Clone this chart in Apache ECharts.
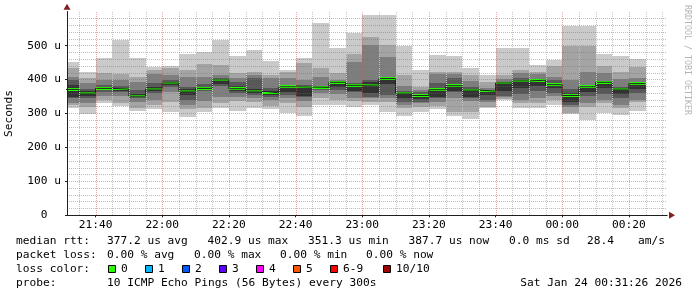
<!DOCTYPE html>
<html><head><meta charset="utf-8">
<script src="https://cdn.jsdelivr.net/npm/echarts@6/dist/echarts.min.js"></script>
<style>html,body{margin:0;padding:0;background:#fff}#c{width:697px;height:297px}</style>
</head><body><div id="c"></div><script>
// bar end times (5 minute steps)
const barEnds = ['21:35','21:40','21:45','21:50','21:55','22:00','22:05','22:10','22:15','22:20','22:25','22:30','22:35','22:40','22:45','22:50','22:55','23:00','23:05','23:10','23:15','23:20','23:25','23:30','23:35','23:40','23:45','23:50','23:55','00:00','00:05','00:10','00:15','00:20','00:25'];
// sorted pings (µs), ping1 = fastest ... ping10 = slowest
const ping1  = [317,300,330,322,307,313,303,291,305,317,307,317,313,301,294,325,325,318,325,305,294,305,313,294,284,317,339,315,317,325,298,281,301,296,307];
const ping2  = [325,318,340,330,315,325,335,312,317,330,337,333,323,330,318,345,340,337,335,335,315,318,322,305,305,320,344,330,330,340,301,320,330,315,335];
const ping3  = [330,332,353,353,335,340,364,325,337,350,350,345,340,345,337,360,357,347,345,345,325,330,335,345,337,335,348,340,345,353,320,330,340,325,340];
const ping4  = [345,347,364,362,345,360,379,340,366,382,360,355,350,355,348,369,369,364,350,355,335,335,345,363,345,340,353,358,367,361,325,353,357,345,360];
const ping5  = [350,352,368,366,348,366,384,355,371,386,365,360,355,362,352,372,379,366,360,386,345,342,350,366,350,355,365,375,380,374,335,364,374,358,372];
const ping6  = [384,366,378,376,358,378,394,372,378,403,380,372,366,381,381,380,393,386,392,406,362,358,374,388,372,368,391,398,400,390,360,382,394,376,390];
const ping7  = [399,372,384,382,369,389,399,379,386,406,394,404,376,382,385,382,394,389,399,409,366,364,389,404,379,369,392,404,402,399,371,384,396,379,394];
const ping8  = [407,389,399,399,394,415,413,409,409,414,404,414,404,404,399,409,399,453,503,467,382,369,415,415,396,376,402,418,415,409,399,421,418,402,406];
const ping9  = [435,406,418,415,409,428,433,428,445,443,418,421,414,423,448,435,418,475,525,503,414,379,423,423,414,392,414,428,423,441,500,500,441,421,438];
const ping10 = [451,421,463,516,463,438,441,474,480,517,468,487,455,428,465,566,492,537,589,589,500,428,472,468,435,414,494,492,443,458,559,559,474,468,460];
const median = [371,360,374,372,351,372,390,366,374,399,373,366,361,379,378,377,392,383,384,403,360,353,370,382,369,366,390,396,398,385,353,379,392,372,388];

// axis tick labels / grid positions
const xTickLabels = ['21:40','22:00','22:20','22:40','23:00','23:20','23:40','00:00','00:20'];
const xMinorTicks = ['21:35','21:45','21:50','21:55','22:05','22:10','22:15','22:25','22:30','22:35','22:45','22:50','22:55','23:05','23:10','23:15','23:25','23:30','23:35','23:45','23:50','23:55','00:05','00:10','00:15','00:25','00:30'];
const yMax = 600;

const statLine1 = [['median rtt:',16],['377.2 us avg',107],['402.9 us max',207.5],['351.3 us min',308],['387.7 us now',408.5],['0.0 ms sd',509],['28.4',587],['am/s',638]];
const statLine2 = [['packet loss:',16],['0.00 % avg',107],['0.00 % max',194],['0.00 % min',280],['0.00 % now',366]];
const lossLabels = ['0','1','2','3','4','5','6-9','10/10'];
const lossColors = ['#26ff00','#00b8ff','#0059ff','#5e00ff','#ff00ff','#ff5500','#ff0000','#a00000'];
const lossBoxX = [108,145,182,219,256,293,330,383];
const probeText = '10 ICMP Echo Pings (56 Bytes) every 300s';
const dateText = 'Sat Jan 24 00:31:26 2026';
const smokeColors = ['#cacaca','#a4a4a4','#7e7e7e','#585858','#323232'];

function toMs(hm){ const [h,m]=hm.split(':').map(Number); return new Date(2026,0,h<12?24:23,h,m,0).getTime(); }
function fmt(v){ const d=new Date(v); return String(d.getHours()).padStart(2,'0')+':'+String(d.getMinutes()).padStart(2,'0'); }
const STEP = 5*60*1000;
const ends = barEnds.map(toMs);
const starts = ends.map(e=>e-STEP);
const xMin = new Date(2026,0,23,21,31,26).getTime();
const xMax = new Date(2026,0,24,0,31,26).getTime();
const pings = [ping1,ping2,ping3,ping4,ping5,ping6,ping7,ping8,ping9,ping10];

const smokeData = ends.map((e,i)=>[starts[i], e].concat(pings.map(p=>p[i])));
const medData = ends.map((e,i)=>[starts[i], e, median[i]]);
const lineData = [[starts[0], median[0]]].concat(ends.map((e,i)=>[e, median[i]]));

const FONT = '"DejaVu Sans Mono", monospace';
const FS = 11.2;

function clampRect(p0,p1,cs){
  let x0 = Math.round(Math.max(p0[0], cs.x)), x1 = Math.round(Math.min(p1[0], cs.x+cs.width));
  let y0 = Math.round(p0[1]), y1 = Math.round(p1[1]);
  return {x:x0, y:y0, width:Math.max(0,x1-x0), height:y1-y0};
}

const graphics = [];
statLine1.forEach(([t,x])=>graphics.push({type:'text',x:x,y:241,style:{text:t,font:FS+'px '+FONT,fill:'#000',verticalAlign:'middle'}}));
statLine2.forEach(([t,x])=>graphics.push({type:'text',x:x,y:255.5,style:{text:t,font:FS+'px '+FONT,fill:'#000',verticalAlign:'middle'}}));
graphics.push({type:'text',x:16,y:269.5,style:{text:'loss color:',font:FS+'px '+FONT,fill:'#000',verticalAlign:'middle'}});
lossLabels.forEach((l,k)=>{
  graphics.push({type:'rect',shape:{x:lossBoxX[k]+0.5,y:265.5,width:7,height:7},style:{fill:lossColors[k],stroke:'#000',lineWidth:1}});
  graphics.push({type:'text',x:lossBoxX[k]+13,y:269.5,style:{text:l,font:FS+'px '+FONT,fill:'#000',verticalAlign:'middle'}});
});
graphics.push({type:'text',x:16,y:283.5,style:{text:'probe:',font:FS+'px '+FONT,fill:'#000',verticalAlign:'middle'}});
graphics.push({type:'text',x:107,y:283.5,style:{text:probeText,font:FS+'px '+FONT,fill:'#000',verticalAlign:'middle'}});
graphics.push({type:'text',x:682,y:283.5,style:{text:dateText,font:FS+'px '+FONT,fill:'#000',verticalAlign:'middle',align:'right'}});
graphics.push({type:'text',x:687,y:5,rotation:-Math.PI/2,style:{text:'RRDTOOL / TOBI OETIKER',font:'8.3px '+FONT,fill:'#b4b4b4',verticalAlign:'middle',align:'left'}});

const chart = echarts.init(document.getElementById('c'), null, {renderer:'canvas'});
const GRAY = 'rgba(110,110,110,0.45)';
const VGRAY = '#c4c4c4';
const RED = 'rgba(222,79,79,0.5)';
const dotGray = {color:GRAY, width:1, type:[1,1]};
const dotRed = {color:RED, width:1, type:[1,1]};
const majorVals = xTickLabels.map(toMs);
const minorVals = xMinorTicks.map(toMs);
function gridSeries(name, vals, color){
  return {type:'custom', name:name, xAxisIndex:0, yAxisIndex:0, z:3, silent:true,
    encode:{x:0}, data:vals.map(v=>[v]),
    renderItem:(params, api)=>{
      const cs = params.coordSys;
      const p0 = api.coord([api.value(0), 0]);
      const x = Math.round(p0[0]) + 0.5;
      return {type:'line', shape:{x1:x, y1:Math.round(cs.y+cs.height), x2:x, y2:Math.round(cs.y)},
              style:{stroke:color, fill:null, lineWidth:1, lineDash:[1,1], opacity:1}};
    }};
}
chart.setOption({
  animation:false,
  backgroundColor:'#fff',
  grid:{left:67, right:30, top:11.7, bottom:81.7, containLabel:false, outerBoundsMode:'none'},
  xAxis:[
    {type:'value', position:'bottom', min:xMin, max:xMax, z:4,
     axisLine:{show:true, onZero:false, lineStyle:{color:'#1f1f1f', width:1}},
     axisTick:{show:true, length:2, customValues:majorVals, lineStyle:{color:'#1f1f1f'}},
     axisLabel:{customValues:majorVals, formatter:fmt, fontFamily:FONT, fontSize:FS, color:'#000', margin:4, hideOverlap:false, showMinLabel:true, showMaxLabel:true},
     splitLine:{show:false}, minorSplitLine:{show:false}},
    {type:'value', position:'bottom', min:xMin, max:xMax, z:3,
     axisLine:{show:true, onZero:false, symbol:['none','triangle'], symbolSize:[7,6], symbolOffset:[0,5], lineStyle:{color:'#7f1f1f', width:1}},
     axisTick:{show:false}, axisLabel:{show:false}, splitLine:{show:false}, minorSplitLine:{show:false}}
  ],
  yAxis:[
    {type:'value', position:'left', min:0, max:yMax, interval:100, z:4,
     name:'Seconds', nameLocation:'middle', nameGap:52, nameTextStyle:{fontFamily:FONT, fontSize:FS, color:'#000'},
     axisLine:{show:true, onZero:false, lineStyle:{color:'#1f1f1f', width:1}},
     axisTick:{show:true, length:2, lineStyle:{color:'#1f1f1f'}},
     axisLabel:{formatter:v=>v===0?'0  ':v+' u', fontFamily:FONT, fontSize:FS, color:'#000', margin:6, showMaxLabel:false},
     splitLine:{show:true, showMinLine:false, showMaxLine:false, lineStyle:dotRed},
     minorTick:{show:false, splitNumber:5},
     minorSplitLine:{show:true, lineStyle:dotGray}},
    {type:'value', position:'left', offset:0, min:0, max:yMax, z:3,
     axisLine:{show:true, onZero:false, symbol:['none','triangle'], symbolSize:[7,6], symbolOffset:[0,5], lineStyle:{color:'#7f1f1f', width:1}},
     axisTick:{show:false}, axisLabel:{show:false}, splitLine:{show:false}}
  ],
  graphic:graphics,
  series:[
    {type:'custom', name:'smoke', xAxisIndex:0, yAxisIndex:0, z:2,
     encode:{x:[0,1], y:[2,3,4,5,6,7,8,9,10,11]},
     data:smokeData,
     renderItem:(params, api)=>{
       const cs = params.coordSys; const s = api.value(0), e = api.value(1);
       const children = [];
       for(let k=0;k<5;k++){
         const lo = api.value(2+k), hi = api.value(11-k);
         children.push({type:'rect', shape:clampRect(api.coord([s,hi]), api.coord([e,lo]), cs), style:{fill:smokeColors[k]}});
       }
       return {type:'group', children};
     }},
    {type:'line', name:'median', xAxisIndex:0, yAxisIndex:0, z:2, step:'start', showSymbol:false, symbol:'none',
     data:lineData, lineStyle:{color:'#202020', width:1}, clip:true},
    {type:'custom', name:'loss 0', xAxisIndex:0, yAxisIndex:0, z:2,
     encode:{x:[0,1], y:[2]},
     data:medData,
     renderItem:(params, api)=>{
       const cs = params.coordSys; const s = api.value(0), e = api.value(1), m = api.value(2);
       return {type:'rect', shape:clampRect(api.coord([s,m+3.8]), api.coord([e,m-3.8]), cs), style:{fill:lossColors[0]}};
     }},
    gridSeries('grid5', minorVals, VGRAY),
    gridSeries('grid20', majorVals, RED)
  ]
});
</script></body></html>
